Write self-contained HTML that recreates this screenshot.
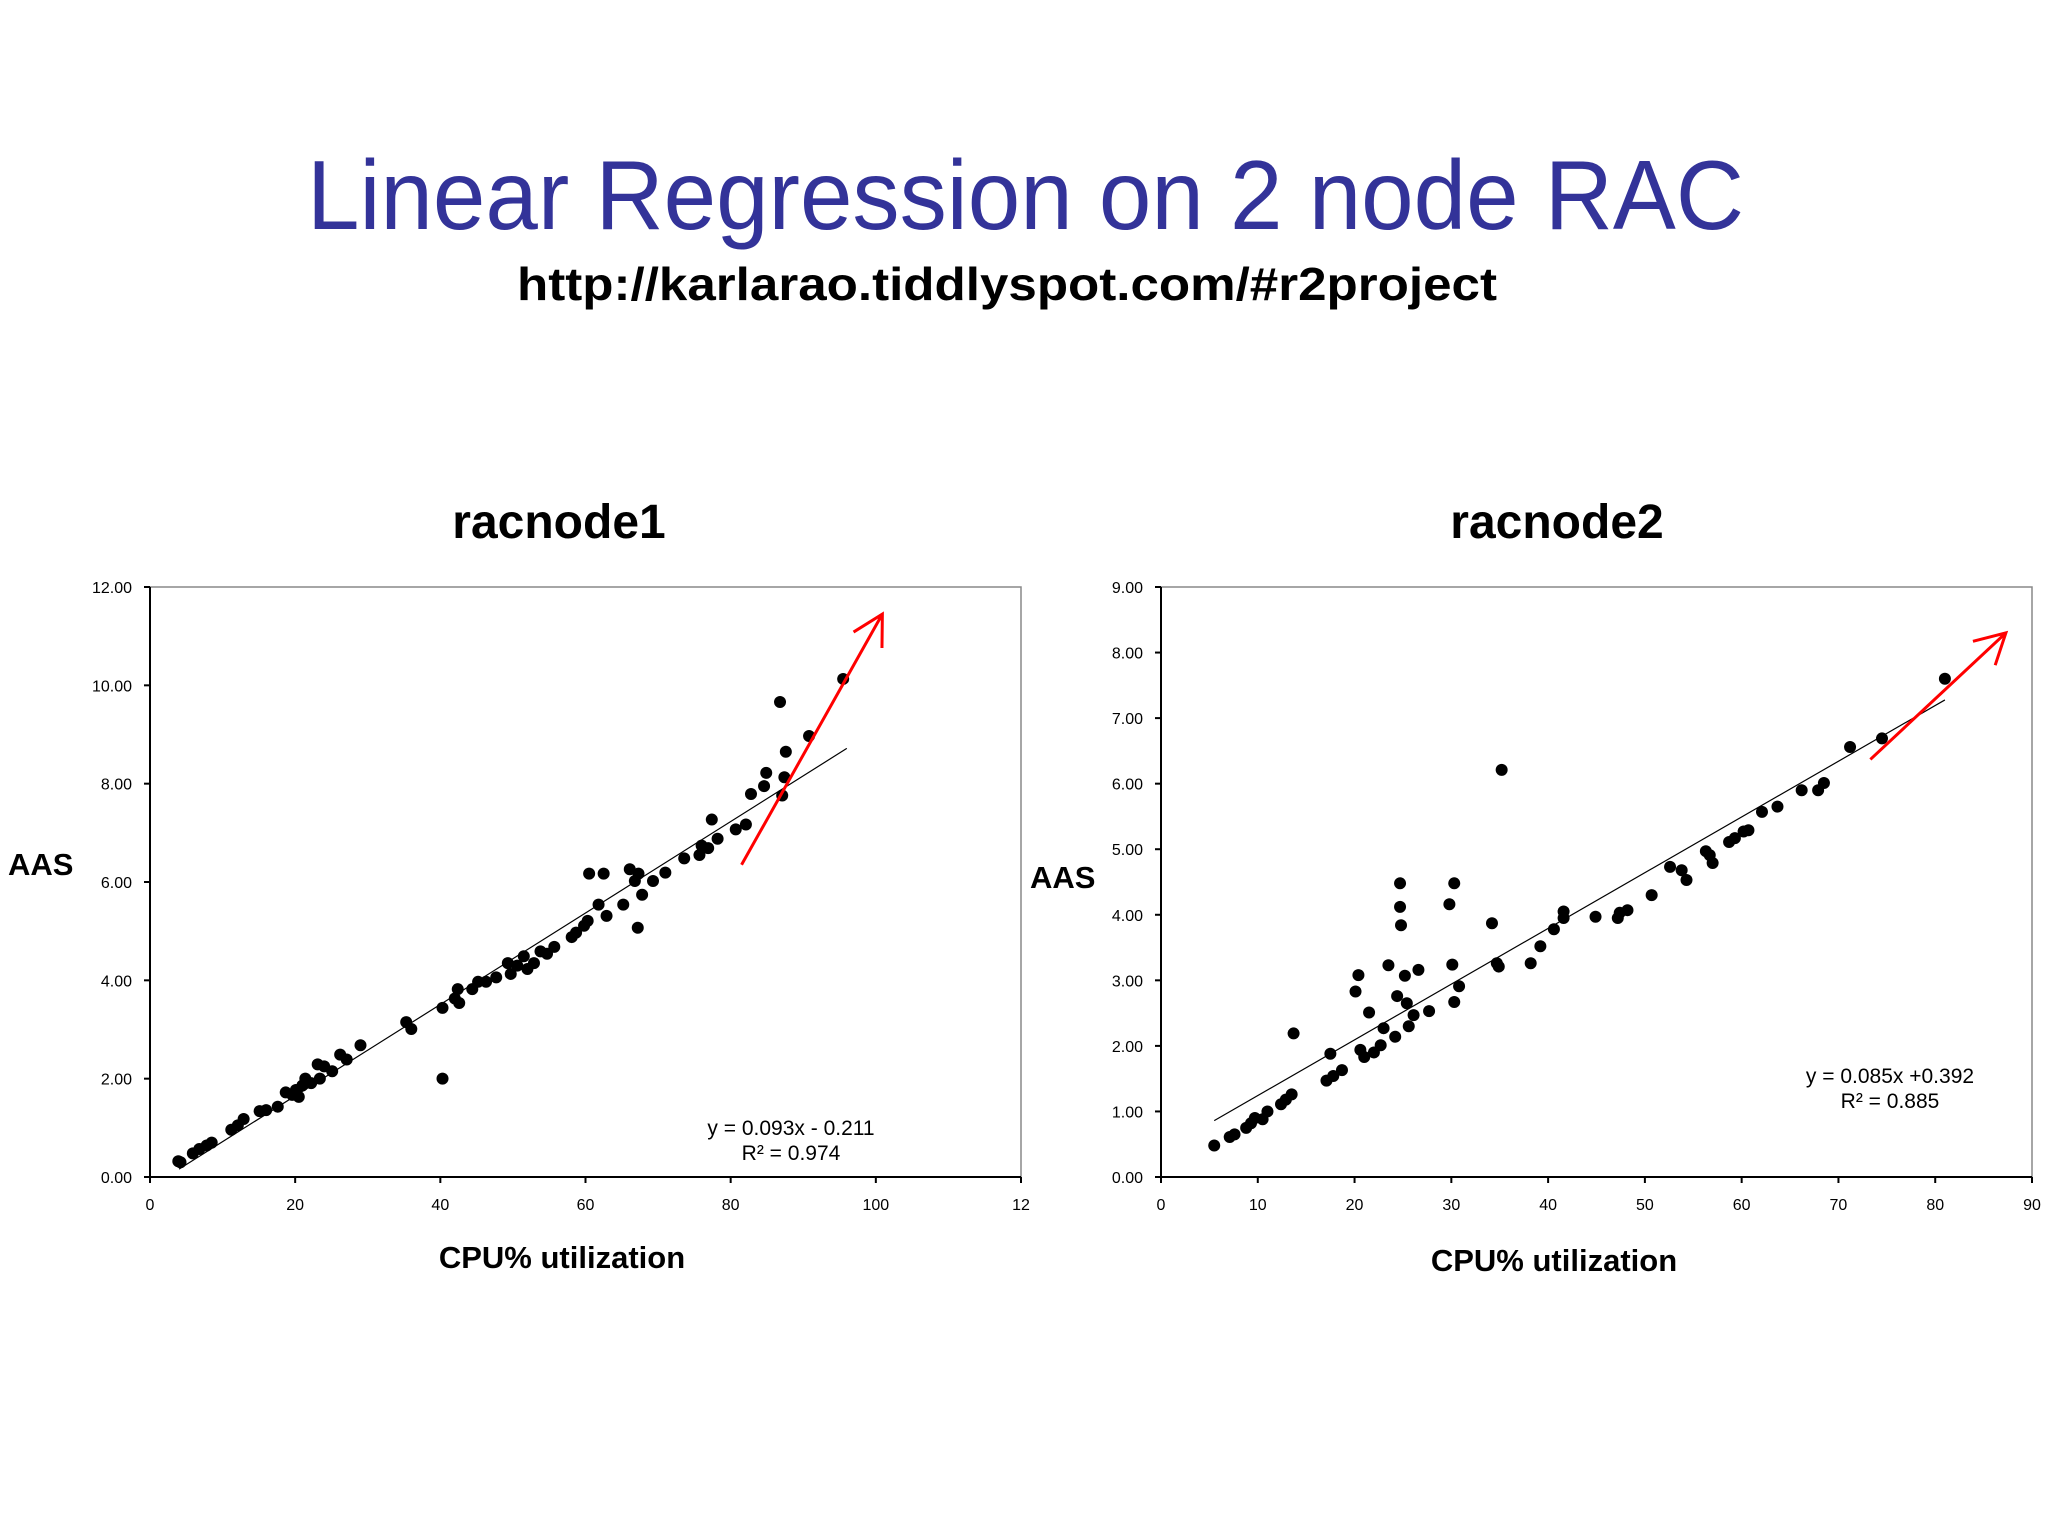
<!DOCTYPE html>
<html><head><meta charset="utf-8"><style>
html,body{margin:0;padding:0;background:#fff;}
svg{display:block;}
text{font-family:"Liberation Sans",sans-serif;}
</style></head><body>
<svg id="svg" width="2048" height="1536" viewBox="0 0 2048 1536" xmlns="http://www.w3.org/2000/svg">
<rect width="2048" height="1536" fill="#fff"/>
<text x="307" y="229" font-size="98" fill="#333399" textLength="1437" lengthAdjust="spacingAndGlyphs">Linear Regression on 2 node RAC</text>
<text x="517" y="300" font-size="46" font-weight="bold" fill="#000" textLength="980" lengthAdjust="spacingAndGlyphs">http://karlarao.tiddlyspot.com/#r2project</text>
<text x="559" y="538" font-size="48" font-weight="bold" text-anchor="middle">racnode1</text>
<text x="1557" y="538" font-size="48" font-weight="bold" text-anchor="middle">racnode2</text>
<g id="c1"></g>
<g id="c2"></g>
</svg>
<script>
const c1X=[3.9,4.2,5.9,6.8,7.8,8.5,11.2,12.1,12.9,15.1,16,17.6,18.7,19.6,20.1,20.5,21,21.4,22.2,23.1,23.4,24,25.1,26.2,27.1,29,35.3,36,40.3,40.3,42,42.4,42.6,44.4,45.2,46.3,47.7,49.3,49.7,50.6,51.5,52,52.9,53.8,54.7,55.7,58.1,58.7,59.8,60.3,60.5,61.8,62.5,62.9,65.2,66.1,66.8,67.2,67.3,67.8,69.3,71,73.6,75.7,76,76.9,77.4,78.2,80.7,82.1,82.8,84.6,84.9,86.8,87.1,87.4,87.6,90.8,95.5];
const c1Y=[0.32,0.30,0.48,0.57,0.64,0.70,0.96,1.05,1.18,1.34,1.36,1.43,1.72,1.67,1.77,1.63,1.86,2.0,1.91,2.29,2.0,2.25,2.15,2.49,2.39,2.68,3.15,3.01,2.0,3.44,3.63,3.82,3.54,3.82,3.97,3.97,4.06,4.35,4.13,4.30,4.49,4.23,4.35,4.59,4.54,4.68,4.88,4.97,5.11,5.21,6.17,5.54,6.17,5.31,5.54,6.26,6.02,5.07,6.17,5.74,6.02,6.19,6.48,6.55,6.74,6.69,7.27,6.88,7.07,7.17,7.79,7.95,8.22,9.66,7.76,8.13,8.65,8.97,10.13];
const c1XTicks=[0,20,40,60,80,100,120];
const c1XTickLabels=["0","20","40","60","80","100","12"];
const c1YTicks=[0,2,4,6,8,10,12];
const c1Fit=[0.093,-0.211,4,96];
const c1Arrow=[81.5,6.35,100.9,11.45];

const c2X=[5.5,7.1,7.6,8.8,9.3,9.7,10.5,11,12.4,12.9,13.5,13.7,17.1,17.5,17.8,18.7,20.1,20.4,20.6,21,21.5,22,22.7,23,23.5,24.2,24.4,24.7,24.7,24.8,25.2,25.4,25.6,26.1,26.6,27.7,29.8,30.1,30.3,30.3,30.8,34.2,34.7,34.9,35.2,38.2,39.2,40.6,41.6,41.6,44.9,47.2,47.4,48.2,50.7,52.6,53.8,54.3,56.3,56.7,57,58.7,59.3,60.2,60.7,62.1,63.7,66.2,67.9,68.5,71.2,74.5,81];
const c2Y=[0.48,0.61,0.65,0.75,0.82,0.90,0.88,1.0,1.11,1.18,1.26,2.19,1.47,1.88,1.54,1.63,2.83,3.08,1.94,1.83,2.51,1.90,2.01,2.27,3.23,2.14,2.76,4.48,4.12,3.84,3.07,2.65,2.30,2.47,3.16,2.53,4.16,3.24,4.48,2.67,2.91,3.87,3.26,3.21,6.21,3.26,3.52,3.78,4.05,3.95,3.97,3.95,4.03,4.07,4.30,4.73,4.68,4.53,4.97,4.91,4.79,5.11,5.17,5.27,5.29,5.57,5.65,5.90,5.90,6.01,6.56,6.69,7.60];
const c2XTicks=[0,10,20,30,40,50,60,70,80,90];
const c2XTickLabels=["0","10","20","30","40","50","60","70","80","90"];
const c2YTicks=[0,1,2,3,4,5,6,7,8,9];
const c2Fit=[0.085,0.392,5.5,81];
const c2Arrow=[73.3,6.37,87.3,8.30];

const NS="http://www.w3.org/2000/svg";
function mk(g,tag,attrs,txt){const e=document.createElementNS(NS,tag);for(const k in attrs)e.setAttribute(k,attrs[k]);if(txt!==undefined)e.textContent=txt;g.appendChild(e);return e;}

function draw(gid,o){
  const g=document.getElementById(gid);
  const sx=v=>o.x0+(v-o.xmin)/(o.xmax-o.xmin)*(o.x1-o.x0);
  const sy=v=>o.y0-(v-o.ymin)/(o.ymax-o.ymin)*(o.y0-o.y1);
  let e=mk(g,'rect',{x:o.x0,y:o.y1,width:o.x1-o.x0,height:o.y0-o.y1,fill:'none',stroke:'#888','stroke-width':1.5});
  
  
  e=mk(g,'line',{x1:o.x0,y1:o.y1,x2:o.x0,y2:o.y0,stroke:'#000','stroke-width':2});
  
  
  e=mk(g,'line',{x1:o.x0,y1:o.y0,x2:o.x1,y2:o.y0,stroke:'#000','stroke-width':2});
  
  
  o.yt.forEach(v=>{
    mk(g,'line',{x1:o.x0-6,y1:sy(v),x2:o.x0,y2:sy(v),stroke:'#000','stroke-width':2});
    e=mk(g,'text',{x:o.x0-18,y:sy(v)+6,'font-size':16,'text-anchor':'end',fill:'#000'},v.toFixed(2));
    
    
  });
  o.xt.forEach((v,i)=>{
    mk(g,'line',{x1:sx(v),y1:o.y0,x2:sx(v),y2:o.y0+6,stroke:'#000','stroke-width':2});
    e=mk(g,'text',{x:sx(v),y:o.y0+33,'font-size':16,'text-anchor':'middle',fill:'#000'},o.xl[i]);
    
    
  });
  const f=o.fit;
  e=mk(g,'line',{x1:sx(f[2]),y1:sy(f[0]*f[2]+f[1]),x2:sx(f[3]),y2:sy(f[0]*f[3]+f[1]),stroke:'#000','stroke-width':1.2});
  
  
  o.X.forEach((x,i)=>{
    e=mk(g,'circle',{cx:sx(x),cy:sy(o.Y[i]),r:6,fill:'#000'});
    
    
  });
  const a=o.arrow;
  const ax1=sx(a[0]),ay1=sy(a[1]),ax2=sx(a[2]),ay2=sy(a[3]);
  const ang=Math.atan2(ay2-ay1,ax2-ax1);
  const hl=34;
  const p1=[ax2-hl*Math.cos(ang-0.5),ay2-hl*Math.sin(ang-0.5)];
  const p2=[ax2-hl*Math.cos(ang+0.5),ay2-hl*Math.sin(ang+0.5)];
  e=mk(g,'path',{d:`M${ax1},${ay1}L${ax2},${ay2}M${p1[0]},${p1[1]}L${ax2},${ay2}L${p2[0]},${p2[1]}`,stroke:'#ff0000','stroke-width':3,fill:'none'});
  
  
  e=mk(g,'text',{x:o.eqx,y:o.eqy,'font-size':21,'text-anchor':'middle',fill:'#000'},o.eq1);
  
  
  e=mk(g,'text',{x:o.eqx,y:o.eqy+25,'font-size':21,'text-anchor':'middle',fill:'#000'},o.eq2);
  
  
  e=mk(g,'text',{x:o.aasx,y:o.aasy,'font-size':31,'font-weight':'bold',fill:'#000'},'AAS');
  
  
  e=mk(g,'text',{x:o.cx,y:o.cy,'font-size':31,'font-weight':'bold','text-anchor':'middle',fill:'#000'},'CPU% utilization');
  
  
}
draw('c1',{x0:150,x1:1021,y0:1177,y1:587,xmin:0,xmax:120,ymin:0,ymax:12,xt:c1XTicks,xl:c1XTickLabels,yt:c1YTicks,X:c1X,Y:c1Y,fit:c1Fit,arrow:c1Arrow,eqx:791,eqy:1135,eq1:'y = 0.093x - 0.211',eq2:'R² = 0.974',aasx:8,aasy:875,cx:562,cy:1268});
draw('c2',{x0:1161,x1:2032,y0:1177,y1:587,xmin:0,xmax:90,ymin:0,ymax:9,xt:c2XTicks,xl:c2XTickLabels,yt:c2YTicks,X:c2X,Y:c2Y,fit:c2Fit,arrow:c2Arrow,eqx:1890,eqy:1083,eq1:'y = 0.085x +0.392',eq2:'R² = 0.885',aasx:1030,aasy:888,cx:1554,cy:1271});
</script>
</body></html>
